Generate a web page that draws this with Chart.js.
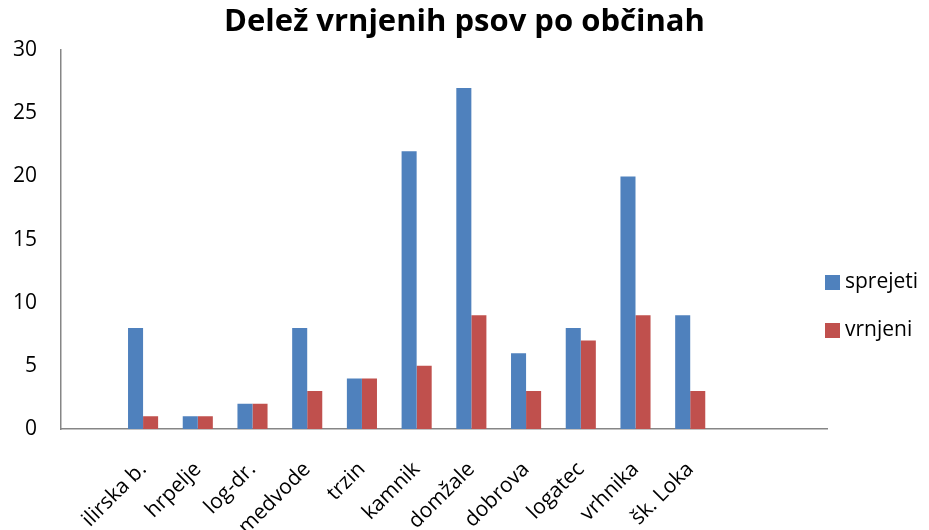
<!DOCTYPE html>
<html>
<head>
<meta charset="utf-8">
<script src="https://cdn.jsdelivr.net/npm/chart.js@4/dist/chart.umd.min.js"></script>
<style>
  html, body { margin: 0; padding: 0; background: #fff; }
  #wrap { width: 929px; height: 530px; }
</style>
</head>
<body>
<div id="wrap"><canvas id="myChart" width="929" height="530"></canvas></div>
<script>
// categories (empty slots keep Excel's spacing at both ends)
var categories = ['', 'ilirska b.', 'hrpelje', 'log-dr.', 'medvode', 'trzin', 'kamnik',
    'domžale', 'dobrova', 'logatec', 'vrhnika', 'šk. Loka', '', ''];
var sprejeti = [null, 8, 1, 2, 8, 4, 22, 27, 6, 8, 20, 9, null, null];
var vrnjeni = [null, 1, 1, 2, 3, 4, 5, 9, 3, 7, 9, 3, null, null];
var yMin = 0, yMax = 30, yStep = 5;

var fontFamily = '"Open Sans", sans-serif';
var axisGrey = '#868686';

// Excel-style legend on the right, entries spaced wider than chart.js allows
var sideLegend = {
    id: 'sideLegend',
    afterDraw: function(chart) {
        var c = chart.ctx;
        var x = chart.chartArea.right - 2;
        var ys = [282, 330];
        c.save();
        c.font = '21px ' + fontFamily;
        c.textBaseline = 'middle';
        c.textAlign = 'left';
        chart.data.datasets.forEach(function(ds, i) {
            c.fillStyle = ds.backgroundColor;
            c.fillRect(x, ys[i] - 7, 15, 15);
            c.fillStyle = '#000';
            c.fillText(ds.label, x + 20, ys[i]);
        });
        c.restore();
    }
};

var ctx = document.getElementById('myChart').getContext('2d');
var myChart = new Chart(ctx, {
    type: 'bar',
    data: {
        labels: categories,
        datasets: [
            {
                label: 'sprejeti',
                data: sprejeti,
                backgroundColor: '#4F81BD',
                barPercentage: 1,
                categoryPercentage: 0.55
            },
            {
                label: 'vrnjeni',
                data: vrnjeni,
                backgroundColor: '#C0504D',
                barPercentage: 1,
                categoryPercentage: 0.55
            }
        ]
    },
    options: {
        responsive: false,
        animation: false,
        layout: { padding: 0 },
        plugins: {
            title: {
                display: true,
                text: 'Delež vrnjenih psov po občinah',
                color: '#000',
                font: { family: fontFamily, size: 31, weight: 'bold' },
                padding: { top: 4, bottom: 9 }
            },
            legend: { display: false },
            tooltip: { enabled: false }
        },
        scales: {
            x: {
                grid: { display: false },
                border: { display: true, color: axisGrey, width: 1.5 },
                ticks: {
                    color: '#000',
                    font: { family: fontFamily, size: 21 },
                    minRotation: 45,
                    maxRotation: 45,
                    autoSkip: false,
                    padding: 20
                },
                afterFit: function(scale) { scale.height = 101; }
            },
            y: {
                min: yMin,
                max: yMax,
                grid: { display: false },
                border: { display: true, color: axisGrey, width: 1.5 },
                ticks: {
                    stepSize: yStep,
                    color: '#000',
                    font: { family: fontFamily, size: 21 },
                    padding: 16
                },
                afterFit: function(scale) { scale.width = 61; }
            },
            // empty axis that only reserves the room where the legend sits
            legendSpace: {
                type: 'linear',
                position: 'right',
                grid: { display: false },
                border: { display: false },
                ticks: { display: false },
                afterFit: function(scale) { scale.width = 102; }
            }
        }
    },
    plugins: [sideLegend]
});
</script>
</body>
</html>
